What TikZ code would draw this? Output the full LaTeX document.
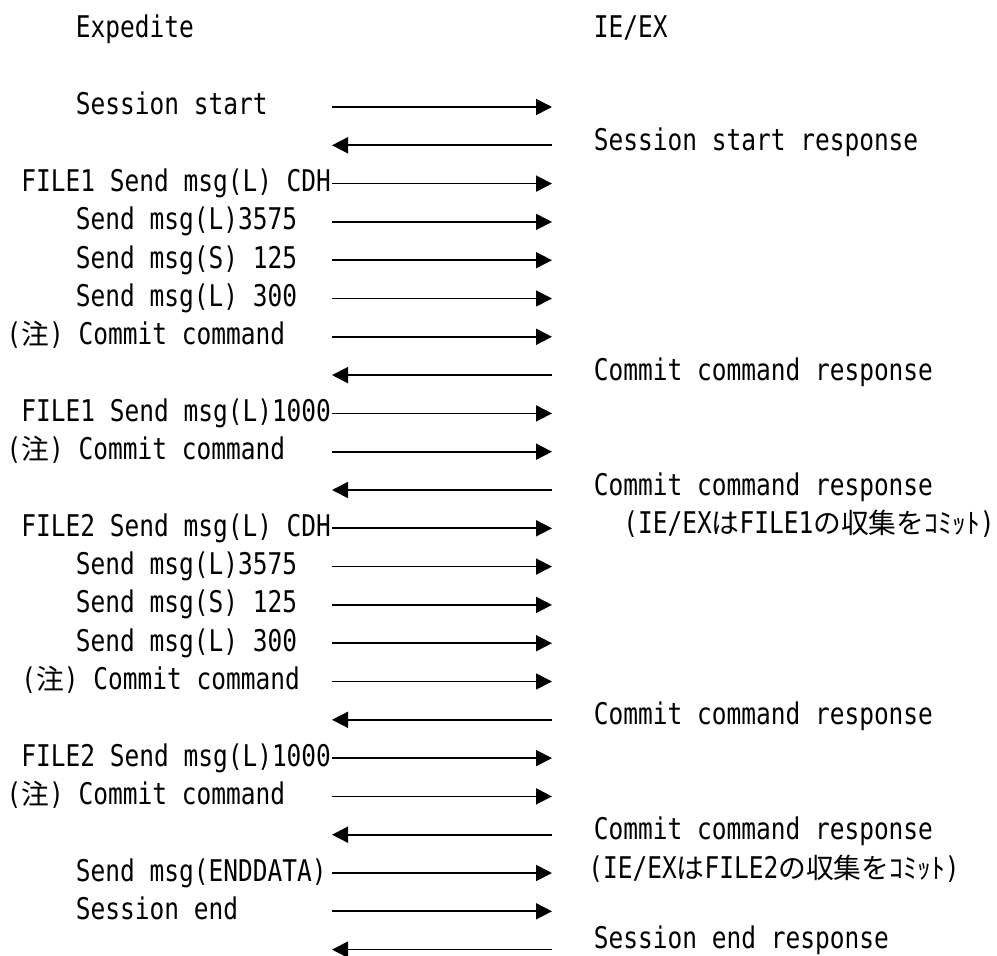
\documentclass[tikz,border=0pt]{standalone}
\usepackage{fontspec}
\setmainfont[FakeStretch=0.82]{DejaVu Sans Mono}
\newfontfamily\jpfont[Scale=0.93]{Noto Sans CJK JP}
\usetikzlibrary{arrows.meta}
\tikzset{
seq label/.style={anchor=base west, inner sep=0pt, font=\fontsize{17pt}{20pt}\selectfont},
msg line/.style={draw=black, line width=1pt, -{Triangle[length=0.32cm,width=0.32cm]}},
}

\begin{document}
\begin{tikzpicture}[x=0.02cm,y=-0.02cm]
\path[use as bounding box, fill=white] (0,0) rectangle (997,956);
% lane ends, one pair per message row
\foreach \i in {0,...,22}{
  \coordinate (a\i) at (332,{107+38.3*\i});
  \coordinate (b\i) at (552,{107+38.3*\i});
}
% headers
\node[seq label] (expedite) at (75.5,38) {Expedite};
\node[seq label] (ieex) at (593.5,38) {IE/EX};
% Expedite side
\node[seq label] (sstart) at (75.5,115) {Session start};
\node[seq label] (fonecdh) at (21,191.6) {FILE1 Send msg(L) CDH};
\node[seq label] (fonea) at (75.5,229.9) {Send msg(L)3575};
\node[seq label] (foneb) at (75.5,268.2) {Send msg(S) 125};
\node[seq label] (fonec) at (75.5,306.5) {Send msg(L) 300};
\node[seq label] (fonecmt) at (6.3,344.8) {({\jpfont 注}) Commit command};
\node[seq label] (foned) at (21,421.4) {FILE1 Send msg(L)1000};
\node[seq label] (fonecmtb) at (6.3,459.7) {({\jpfont 注}) Commit command};
\node[seq label] (ftwocdh) at (21,536.3) {FILE2 Send msg(L) CDH};
\node[seq label] (ftwoa) at (75.5,574.6) {Send msg(L)3575};
\node[seq label] (ftwob) at (75.5,612.9) {Send msg(S) 125};
\node[seq label] (ftwoc) at (75.5,651.2) {Send msg(L) 300};
\node[seq label] (ftwocmt) at (21,689.5) {({\jpfont 注}) Commit command};
\node[seq label] (ftwod) at (21,766.1) {FILE2 Send msg(L)1000};
\node[seq label] (ftwocmtb) at (6.3,804.4) {({\jpfont 注}) Commit command};
\node[seq label] (enddata) at (75.5,881) {Send msg(ENDDATA)};
\node[seq label] (send) at (75.5,919.3) {Session end};
% IE/EX side
\node[seq label] (sstartres) at (593.5,150.3) {Session start response};
\node[seq label] (fonecmtres) at (593.5,380.1) {Commit command response};
\node[seq label] (fonecmtbres) at (593.5,495) {Commit command response};
\node[seq label] (fonenote) at (623,533.3) {(IE/EX{\jpfont は}FILE1{\jpfont の収集をｺﾐｯﾄ})};
\node[seq label] (ftwocmtres) at (593.5,724.8) {Commit command response};
\node[seq label] (ftwocmtbres) at (593.5,839.7) {Commit command response};
\node[seq label] (ftwonote) at (588,878) {(IE/EX{\jpfont は}FILE2{\jpfont の収集をｺﾐｯﾄ})};
\node[seq label] (sendres) at (593.5,948) {Session end response};
% messages
\draw[msg line] (a0) -- (b0);
\draw[msg line] (b1) -- (a1);
\draw[msg line] (a2) -- (b2);
\draw[msg line] (a3) -- (b3);
\draw[msg line] (a4) -- (b4);
\draw[msg line] (a5) -- (b5);
\draw[msg line] (a6) -- (b6);
\draw[msg line] (b7) -- (a7);
\draw[msg line] (a8) -- (b8);
\draw[msg line] (a9) -- (b9);
\draw[msg line] (b10) -- (a10);
\draw[msg line] (a11) -- (b11);
\draw[msg line] (a12) -- (b12);
\draw[msg line] (a13) -- (b13);
\draw[msg line] (a14) -- (b14);
\draw[msg line] (a15) -- (b15);
\draw[msg line] (b16) -- (a16);
\draw[msg line] (a17) -- (b17);
\draw[msg line] (a18) -- (b18);
\draw[msg line] (b19) -- (a19);
\draw[msg line] (a20) -- (b20);
\draw[msg line] (a21) -- (b21);
\draw[msg line] (b22) -- (a22);
\end{tikzpicture}
\end{document}
